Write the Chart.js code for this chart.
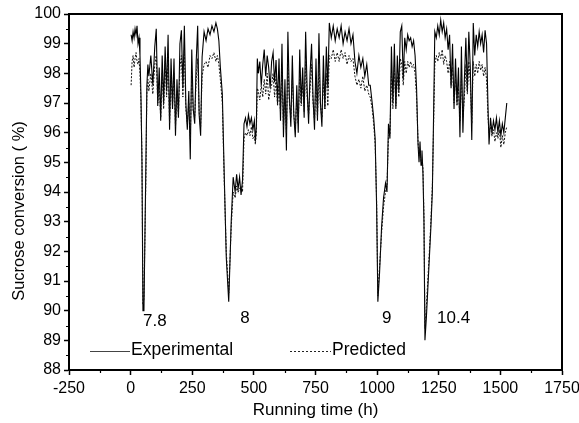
<!DOCTYPE html>
<html><head><meta charset="utf-8">
<script src="https://cdn.jsdelivr.net/npm/chart.js@4.4.0/dist/chart.umd.min.js"></script>
<style>html,body{margin:0;padding:0;background:#fff;}canvas{display:block;}</style>
</head><body>
<canvas id="c" width="579" height="423" style="width:579px;height:423px"></canvas>
<script>
// Running time (h)
const times = [
 2,6,10,14,18,22,26,30,34,38,42,46,50,54,62,66,70,74,
 82,90,98,104,110,116,122,128,134,140,146,152,158,164,170,176,182,188,194,200,206,212,218,224,230,236,242,248,254,260,266,272,278,284,290,298,306,314,
 322,330,338,346,352,358,364,372,380,388,398,408,416,424,430,436,442,448,454,460,466,472,478,484,490,496,502,506,510,514,
 518,524,530,536,542,548,554,560,566,572,578,584,590,596,602,608,614,620,626,632,638,644,650,656,662,668,674,680,686,692,698,704,710,716,722,728,734,740,746,752,758,764,770,776,782,788,794,800,806,
 814,822,830,838,846,854,862,870,878,886,894,902,910,918,926,934,942,950,958,966,
 972,980,986,992,998,1003,1010,1018,1026,1034,1040,1046,
 1052,1058,1064,1070,1076,1082,1088,1094,1100,1106,1112,1118,1124,1130,1136,1142,1148,1154,1160,
 1166,1170,1174,1178,1182,1186,1190,1194,1200,1206,1212,1218,1224,1228,1234,
 1240,1246,1252,1258,1264,1270,1276,1282,
 1288,1294,1300,1306,1312,1318,1324,1330,1336,1342,1348,1354,1360,1366,1372,1378,1384,1390,1396,1402,1408,1414,1420,1426,1432,1438,1444,
 1450,1454,1460,1466,1472,1478,1484,1490,1496,1502,1508,1514,1520,1526
];
// Sucrose conversion (%), experimental
const experimental = [
 99.3,99.1,99.4,99.2,99.5,99.3,99.6,99.0,99.2,98.6,97.2,95.0,90.0,90.0,95.0,97.6,98.3,97.9,
 98.6,97.6,98.9,99.5,96.9,98.2,96.4,98.6,97.0,98.9,97.4,99.3,96.1,98.5,96.8,98.5,95.9,97.8,96.5,99.0,99.45,97.5,99.6,97.0,96.1,97.4,95.1,98.8,96.8,96.3,98.4,99.6,96.6,95.9,98.55,99.4,99.1,99.5,
 99.3,99.6,99.4,99.7,99.5,99.1,98.2,97.3,94.5,91.8,90.3,93.0,94.5,94.0,94.6,94.1,94.5,93.9,94.4,96.3,96.5,96.2,96.6,96.3,96.5,96.1,96.4,95.7,96.2,98.5,
 98.0,98.4,97.6,98.3,98.8,97.9,98.6,98.2,97.5,98.4,98.7,97.7,98.45,97.0,98.5,96.4,99.0,95.85,97.8,95.4,99.4,97.2,96.2,98.6,96.6,95.85,97.6,96.0,98.8,97.0,98.2,96.5,99.4,97.5,96.3,98.0,99.0,97.2,96.1,98.5,96.4,99.35,97.0,96.2,98.6,96.8,98.9,97.5,99.7,
 99.2,99.6,99.1,99.5,99.2,99.6,99.0,99.4,99.1,99.5,99.0,99.3,98.4,98.0,98.6,98.2,98.5,97.9,98.3,97.6,
 97.6,97.0,96.5,95.8,93.5,90.3,91.3,92.8,93.8,94.3,94.0,96.3,
 95.8,98.9,97.0,99.0,96.8,98.6,97.4,99.4,99.6,97.8,99.2,98.8,99.3,99.1,99.2,98.9,99.1,98.6,97.5,
 95.6,95.0,95.7,94.9,95.4,94.6,93.0,89.0,89.8,90.8,91.8,92.8,94.0,96.0,99.4,
 99.2,99.6,99.3,99.8,99.4,99.7,99.2,99.5,
 98.8,99.3,97.5,99.0,96.8,98.5,97.0,98.2,95.85,98.9,96.0,97.8,99.2,97.4,99.4,98.2,95.75,99.7,98.6,99.3,98.9,99.4,99.0,99.3,98.7,99.45,99.0,
 96.8,95.6,96.5,96.0,96.4,96.1,96.5,96.0,96.4,95.9,96.3,96.0,96.5,97.0
];
// Sucrose conversion (%), predicted
const predicted = [
 97.6,98.4,98.6,98.2,98.5,98.7,98.4,98.3,98.5,98.0,97.0,95.2,90.2,90.4,94.5,97.4,97.8,97.4,
 98.0,97.3,98.3,98.6,97.0,97.6,96.5,98.0,96.8,98.4,97.2,98.6,96.3,97.9,96.9,98.0,96.2,97.4,96.6,98.2,98.6,97.2,98.8,96.8,96.3,97.0,95.8,98.0,96.7,96.5,97.8,98.5,96.7,96.2,97.9,98.3,98.4,98.2,
 98.6,98.5,98.7,98.4,98.6,98.3,97.8,97.0,94.3,92.0,90.6,92.8,94.0,93.8,94.2,94.0,94.1,94.2,94.0,95.8,96.0,95.9,96.1,95.9,96.2,95.8,95.9,95.6,96.0,97.5,
 97.4,97.1,97.6,97.2,97.8,97.3,98.0,97.1,97.4,97.6,98.0,97.2,97.9,96.9,97.6,96.7,98.2,96.2,97.3,96.0,98.4,97.0,96.5,97.8,96.6,96.1,97.1,96.3,98.0,96.9,97.6,96.7,98.4,97.2,96.6,97.5,98.3,97.0,96.4,97.8,96.5,98.3,96.9,96.5,97.8,96.8,98.0,96.9,98.6,
 98.5,98.8,98.4,98.7,98.4,98.8,98.5,98.7,98.3,98.6,98.4,98.5,97.9,97.6,97.8,97.5,97.9,97.4,97.6,97.3,
 97.2,96.8,96.3,95.6,93.7,90.5,91.5,92.6,93.5,94.0,94.2,95.9,
 95.9,98.0,96.8,98.2,96.9,97.9,97.2,98.5,98.3,97.6,98.4,98.0,98.4,98.2,98.4,98.2,98.3,98.0,97.2,
 95.7,95.2,95.4,95.0,95.1,94.8,93.2,89.4,90.2,91.1,92.0,93.0,94.2,95.8,98.3,
 98.6,98.4,98.7,98.5,98.8,98.3,98.6,98.4,
 98.0,98.4,97.6,98.2,97.0,97.8,96.9,97.5,96.4,97.9,96.5,97.2,98.3,97.3,98.4,97.7,96.3,98.4,97.9,98.3,98.0,98.4,98.1,98.3,97.9,98.2,97.8,
 96.5,96.0,96.2,95.9,96.1,95.7,96.0,95.8,96.1,95.5,95.9,95.6,96.0,96.2
];
// Axis ranges / ticks
const xRange = [-250, 1750];
const xStep = 250;
const yRange = [88, 100];
const yStep = 1;
// Run annotations (label, time, value)
const annotLabels = ['7.8', '8', '9', '10.4'];
const annotTimes = [50, 445, 1020, 1243];
const annotValues = [89.48, 89.58, 89.58, 89.58];
const seriesNames = ['Experimental', 'Predicted'];

const FONT = '"Liberation Sans", Arial, Helvetica, sans-serif';
const n = Math.min(times.length, experimental.length, predicted.length);
const expPts = [], predPts = [];
for (let i = 0; i < n; i++) { expPts.push({x: times[i], y: experimental[i]}); predPts.push({x: times[i], y: predicted[i]}); }

const extras = {
  id: 'extras',
  afterDraw(chart) {
    const ctx = chart.ctx, a = chart.chartArea, xs = chart.scales.x, ys = chart.scales.y;
    ctx.save();
    ctx.strokeStyle = '#000';
    // minor ticks
    ctx.lineWidth = 1.2;
    ctx.beginPath();
    for (let v = yRange[0] + yStep / 2; v < yRange[1]; v += yStep) {
      const p = Math.round(ys.getPixelForValue(v)) + 0.5;
      ctx.moveTo(a.left, p); ctx.lineTo(a.left - 3, p);
    }
    for (let v = xRange[0] + xStep / 2; v < xRange[1]; v += xStep) {
      const p = Math.round(xs.getPixelForValue(v)) + 0.5;
      ctx.moveTo(p, a.bottom); ctx.lineTo(p, a.bottom + 3);
    }
    ctx.stroke();
    // top & right frame
    ctx.lineWidth = 2;
    ctx.beginPath();
    ctx.moveTo(a.left, a.top); ctx.lineTo(a.right, a.top); ctx.lineTo(a.right, a.bottom);
    ctx.stroke();
    // annotations
    ctx.fillStyle = '#000';
    ctx.font = '17px ' + FONT;
    ctx.textAlign = 'left';
    ctx.textBaseline = 'alphabetic';
    for (let i = 0; i < annotLabels.length; i++) {
      ctx.fillText(annotLabels[i], xs.getPixelForValue(annotTimes[i]), ys.getPixelForValue(annotValues[i]));
    }
    // legend
    ctx.font = '17.5px ' + FONT;
    ctx.strokeStyle = '#444'; ctx.lineWidth = 1;
    ctx.beginPath(); ctx.moveTo(90, 351.5); ctx.lineTo(130, 351.5); ctx.stroke();
    ctx.fillText(seriesNames[0], 131, 355);
    ctx.strokeStyle = '#222'; ctx.setLineDash([2, 2]);
    ctx.beginPath(); ctx.moveTo(290, 351.5); ctx.lineTo(331, 351.5); ctx.stroke();
    ctx.setLineDash([]);
    ctx.fillText(seriesNames[1], 332, 355);
    // y title
    ctx.font = '16.5px ' + FONT;
    ctx.translate(24, 211);
    ctx.rotate(-Math.PI / 2);
    ctx.textAlign = 'center';
    ctx.fillText('Sucrose conversion ( %)', 0, 0);
    ctx.restore();
  }
};

new Chart(document.getElementById('c'), {
  type: 'scatter',
  data: {
    datasets: [
      {label: seriesNames[1], data: predPts, showLine: true, borderColor: '#111', borderWidth: 1, borderDash: [2, 1.5], pointRadius: 0, tension: 0},
      {label: seriesNames[0], data: expPts, showLine: true, borderColor: '#000', borderWidth: 1.1, pointRadius: 0, tension: 0}
    ]
  },
  options: {
    responsive: false, animation: false, devicePixelRatio: 1,
    layout: {padding: {top: 14, right: 17, left: 0, bottom: 0}},
    plugins: {legend: {display: false}, tooltip: {enabled: false}},
    scales: {
      x: {
        type: 'linear', min: xRange[0], max: xRange[1],
        ticks: {stepSize: xStep, color: '#000', font: {family: FONT, size: 16}, padding: 4, maxRotation: 0, autoSkip: false, callback: v => String(v)},
        grid: {drawOnChartArea: false, tickLength: 5, color: '#000', tickWidth: 1.5},
        border: {color: '#000', width: 2},
        title: {display: true, text: 'Running time (h)', color: '#000', font: {family: FONT, size: 17}, padding: {top: 0, bottom: 2}},
        afterFit(s) { s.height = 53; s.paddingLeft = 0; s.paddingRight = 0; }
      },
      y: {
        min: yRange[0], max: yRange[1],
        ticks: {stepSize: yStep, color: '#000', font: {family: FONT, size: 16}, padding: 3, callback: v => String(v)},
        grid: {drawOnChartArea: false, tickLength: 5, color: '#000', tickWidth: 1.5},
        border: {color: '#000', width: 2},
        afterFit(s) { s.width = 69; s.paddingTop = 0; s.paddingBottom = 0; }
      }
    }
  },
  plugins: [extras]
});
</script>
</body></html>
